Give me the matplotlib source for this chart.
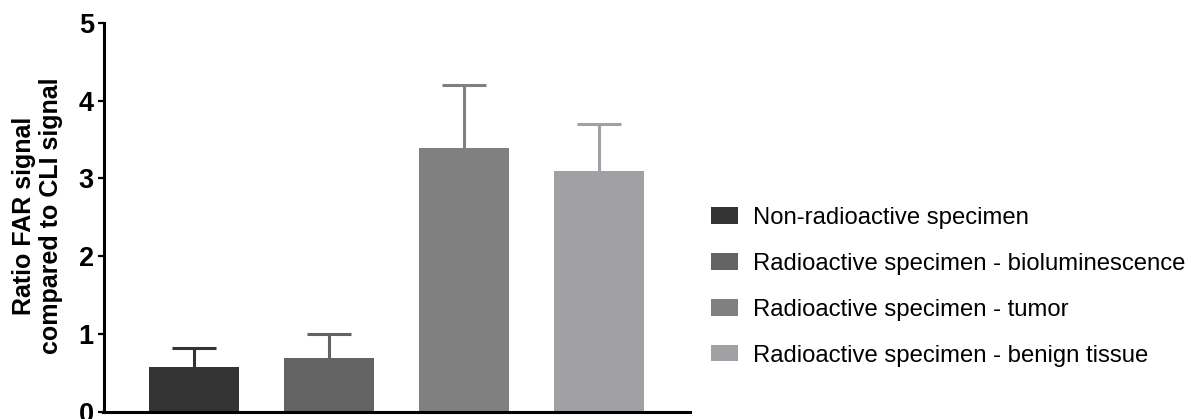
import numpy as np
import matplotlib
matplotlib.use("Agg")
import matplotlib.pyplot as plt
from matplotlib.patches import Patch

# values
groups = ["Non-radioactive specimen",
          "Radioactive specimen - bioluminescence",
          "Radioactive specimen - tumor",
          "Radioactive specimen - benign tissue"]
means = [0.58, 0.69, 3.39, 3.10]
errors = [0.24, 0.31, 0.81, 0.60]
colors = ["#333333", "#636363", "#808080", "#a1a0a5"]
yticks = [0, 1, 2, 3, 4, 5]

plt.rcParams["font.family"] = ["Liberation Sans", "DejaVu Sans"]

W, H = 1191, 419
fig = plt.figure(figsize=(W / 100, H / 100), dpi=100)
ax = fig.add_axes([103.5 / W, 1 - 411.75 / H, (690 - 103.5) / W, (411.75 - 23) / H])

x = np.arange(len(means))
# upper error bars only; the lower half runs down to 0 and is hidden by the bar
for xi, m, e, c in zip(x, means, errors, colors):
    ax.errorbar(xi, m, yerr=[[m], [e]], color=c, elinewidth=2.2,
                capsize=15.8, capthick=2.2, zorder=1)
bars = ax.bar(x, means, width=0.667, color=colors, zorder=2)

ax.set_xlim(-0.670, 3.674)
ax.set_ylim(0, 5)
ax.set_yticks(yticks)
ax.set_yticklabels([str(t) for t in yticks], fontsize=19.5, fontweight="bold")
ax.set_xticks([])
ax.tick_params(axis="y", direction="out", length=4, width=1.6, pad=3)
for s in ["top", "right"]:
    ax.spines[s].set_visible(False)
for s in ["left", "bottom"]:
    ax.spines[s].set_linewidth(2.2)
    ax.spines[s].set_zorder(3)

ax.set_ylabel("Ratio FAR signal\ncompared to CLI signal", fontsize=18,
              fontweight="bold", va="center", linespacing=1.2)
ax.yaxis.set_label_coords((37.5 - 103.5) / (690 - 103.5), 0.505)

handles = [Patch(facecolor=c, edgecolor="none") for c in colors]
fig.legend(handles, groups, loc="upper left",
           bbox_to_anchor=(711 / W, 1 - 207 / H), frameon=False,
           fontsize=17.2, handlelength=1.13, handleheight=0.68,
           handletextpad=0.62, labelspacing=1.0, borderpad=0,
           borderaxespad=0)

fig.savefig("out.png", dpi=100)
